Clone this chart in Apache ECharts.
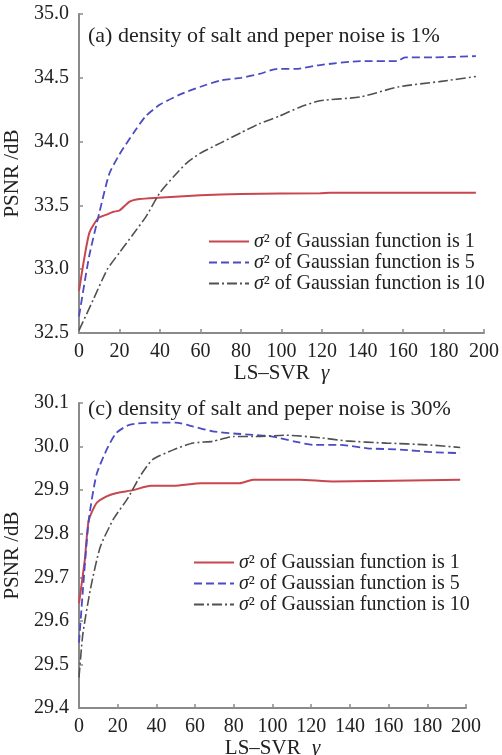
<!DOCTYPE html>
<html>
<head>
<meta charset="utf-8">
<script src="https://cdn.jsdelivr.net/npm/echarts@6/dist/echarts.min.js"></script>
<style>
  html, body { margin: 0; padding: 0; background: #fff; }
  #main { width: 502px; height: 755px; }
</style>
</head>
<body>
<div id="main"></div>
<script>
// panel (a): noise density 1%
var aRedX = [0, 5, 9.5, 14, 17, 20, 25, 30, 39, 60, 80, 119, 124, 196];
var aRedY = [32.83, 33.28, 33.40, 33.43, 33.45, 33.46, 33.53, 33.55, 33.56, 33.58, 33.59, 33.595, 33.60, 33.60];
var aBlueX = [0, 5, 10, 15, 20, 27, 33, 40, 50, 60, 70, 80, 89, 98, 107, 119, 139, 157, 161, 175, 196];
var aBlueY = [32.63, 33.1, 33.44, 33.75, 33.9, 34.07, 34.2, 34.29, 34.37, 34.43, 34.48, 34.50, 34.53, 34.57, 34.57, 34.60, 34.63, 34.63, 34.66, 34.66, 34.67];
var aBlackX = [0, 7, 14, 20, 27, 33, 40, 47, 53, 60, 70, 80, 89, 99, 109, 119, 139, 158, 178, 196];
var aBlackY = [32.52, 32.76, 33.0, 33.13, 33.28, 33.41, 33.6, 33.73, 33.83, 33.91, 33.99, 34.07, 34.14, 34.20, 34.27, 34.32, 34.35, 34.43, 34.47, 34.51];

// panel (c): noise density 30%
var cRedX = [0, 3, 5, 9, 14, 19, 28, 37, 49, 63, 83, 90, 114, 131, 197];
var cRedY = [29.64, 29.74, 29.83, 29.87, 29.885, 29.893, 29.90, 29.91, 29.91, 29.916, 29.916, 29.924, 29.924, 29.92, 29.924];
var cBlueX = [0, 2, 5, 9, 14, 19, 26, 38, 50, 59, 69, 80, 90, 100, 111, 121, 135, 149, 166, 183, 197];
var cBlueY = [29.55, 29.67, 29.83, 29.935, 29.99, 30.03, 30.05, 30.055, 30.055, 30.046, 30.035, 30.03, 30.027, 30.023, 30.012, 30.004, 30.004, 29.996, 29.993, 29.987, 29.985];
var cBlackX = [0, 2, 6, 11, 18, 25, 32, 38, 49, 59, 69, 80, 90, 107, 125, 138, 159, 180, 197];
var cBlackY = [29.47, 29.57, 29.675, 29.77, 29.835, 29.88, 29.935, 29.97, 29.993, 30.008, 30.012, 30.023, 30.023, 30.026, 30.02, 30.013, 30.008, 30.004, 29.998];

var names = ['σ² of Gaussian function is 1', 'σ² of Gaussian function is 5', 'σ² of Gaussian function is 10'];
var titles = ['(a) density of salt and peper noise is 1%', '(c) density of salt and peper noise is 30%'];

var FONT = "'Liberation Serif', 'DejaVu Serif', serif";
var axisColor = '#8a8a8a';

function pairs(xs, ys) {
  return xs.map(function (x, i) { return [x, ys[i]]; });
}

function makeX(idx) {
  return {
    type: 'value', gridIndex: idx, min: 0, max: 200, interval: 20,
    name: 'LS–SVR {g|γ}', nameLocation: 'middle', nameGap: 26,
    nameTextStyle: { fontFamily: FONT, fontSize: 21, color: '#222',
      rich: { g: { fontFamily: FONT, fontStyle: 'italic', fontSize: 21, color: '#222', padding: [0, 0, 0, 6] } } },
    axisLine: { lineStyle: { color: axisColor, width: 2 } },
    axisTick: { inside: true, length: 4, lineStyle: { color: axisColor, width: 1.5 } },
    axisLabel: { fontFamily: FONT, fontSize: 20, color: '#222', margin: 9 },
    splitLine: { show: false }
  };
}

function makeY(idx, min, max, step) {
  return {
    type: 'value', gridIndex: idx, min: min, max: max, interval: step,
    name: 'PSNR /dB', nameLocation: 'middle', nameGap: 47,
    nameTextStyle: { fontFamily: FONT, fontSize: 21, color: '#222' },
    axisLine: { show: true, lineStyle: { color: axisColor, width: 2 } },
    axisTick: { show: true, inside: true, length: 4, lineStyle: { color: axisColor, width: 1.5 } },
    axisLabel: { fontFamily: FONT, fontSize: 20, color: '#222', margin: 10,
      formatter: function (v) { return v.toFixed(1); } },
    splitLine: { show: false }
  };
}

var styles = [
  { color: '#c8464e', type: 'solid', width: 2 },
  { color: '#4b4bc4', type: [8, 4], width: 1.8 },
  { color: '#505050', type: [10, 3, 2, 3], width: 1.6 }
];

function series(idx, data) {
  return data.map(function (d, k) {
    return {
      name: names[k], type: 'line', xAxisIndex: idx, yAxisIndex: idx,
      data: d, symbol: 'none', smooth: 0.2,
      lineStyle: styles[k], itemStyle: { color: styles[k].color }
    };
  });
}

function legend(left, top) {
  return {
    data: names, orient: 'vertical', left: left, top: top,
    itemWidth: 40, itemHeight: 12, itemGap: 0,
    itemStyle: { opacity: 0 },
    textStyle: { fontFamily: FONT, fontSize: 20, lineHeight: 21, color: '#222',
      rich: { i: { fontStyle: 'italic', fontFamily: FONT, fontSize: 20, color: '#222' } } },
    formatter: function (n) { return '{i|σ}' + n.slice(1); },
    selectedMode: false
  };
}

var chart = echarts.init(document.getElementById('main'));
chart.setOption({
  backgroundColor: '#fff',
  animation: false,
  title: [
    { text: titles[0], left: 83, top: 20, textStyle: { fontFamily: FONT, fontSize: 22, fontWeight: 'normal', color: '#222' } },
    { text: titles[1], left: 83, top: 393, textStyle: { fontFamily: FONT, fontSize: 22, fontWeight: 'normal', color: '#222' } }
  ],
  grid: [
    { left: 79, top: 14, width: 405, height: 319, outerBoundsMode: 'none' },
    { left: 79, top: 403, width: 387, height: 305, outerBoundsMode: 'none' }
  ],
  xAxis: [makeX(0), makeX(1)],
  yAxis: [makeY(0, 32.5, 35, 0.5), makeY(1, 29.4, 30.1, 0.1)],
  legend: [legend(203, 226), legend(188, 547)],
  series: series(0, [pairs(aRedX, aRedY), pairs(aBlueX, aBlueY), pairs(aBlackX, aBlackY)])
    .concat(series(1, [pairs(cRedX, cRedY), pairs(cBlueX, cBlueY), pairs(cBlackX, cBlackY)]))
});
</script>
</body>
</html>
